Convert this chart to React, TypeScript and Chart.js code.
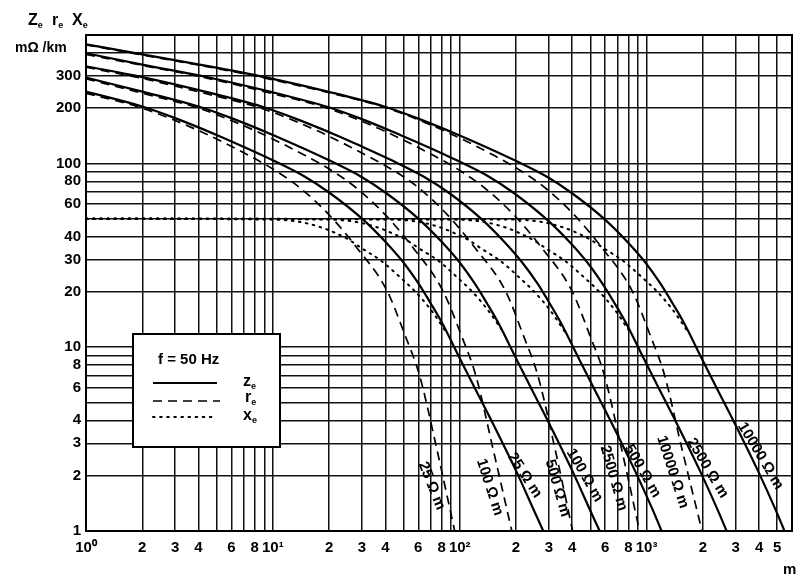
import { useEffect, useRef } from "react";
import { Chart, registerables } from "chart.js";

Chart.register(...registerables);

type P = [number, number];

// z_e (solid)
const zSolid25: P[] = [[1,246],[2,204],[3,176.5],[5,143],[7,123],[10,104],[15,84.2],[20,69.5],[30,50.1],[40,37.5],[50,28.9],[60,22.3],[70,17.3],[80,13.7],[100,8.71],[120,6.03],[150,3.87],[200,2.13],[250,1.29],[280,1.0]];
const zSolid100: P[] = [[1,293],[2,246],[4,204],[6,176.5],[10,143],[14,123],[20,104],[30,84.2],[40,69.5],[60,50.1],[80,37.5],[100,28.9],[120,22.3],[140,17.3],[160,13.7],[200,8.71],[240,6.03],[300,3.87],[400,2.13],[500,1.29],[561,1.0]];
const zSolid500: P[] = [[1,338],[2,295],[4.33,246],[8.7,204],[13,176.5],[21.7,143],[30.3,123],[43.3,104],[65,84.2],[87,69.5],[130,50.1],[173,37.5],[216,28.9],[260,22.3],[303,17.3],[346,13.7],[433,8.71],[520,6.03],[650,3.87],[866,2.13],[1083,1.29],[1203,1.0]];
const zSolid2500: P[] = [[1,398],[2,345],[4.8,290],[9.64,246],[19.3,204],[29,176.5],[48,143],[67.5,123],[96.4,104],[145,84.2],[193,69.5],[289,50.1],[386,37.5],[482,28.9],[578,22.3],[675,17.3],[771,13.7],[964,8.71],[1157,6.03],[1446,3.87],[1928,2.13],[2410,1.29],[2680,1.0]];
const zSolid10000: P[] = [[1,445],[2,392],[4.9,333],[9.85,289.5],[19.7,246],[39.4,204],[59,176.5],[98.5,143],[138,123],[197,104],[296,84.2],[394,69.5],[591,50.1],[788,37.5],[985,28.9],[1182,22.3],[1379,17.3],[1576,13.7],[1970,8.71],[2364,6.03],[2955,3.87],[3940,2.13],[4925,1.29],[5470,1.0]];

// r_e (dashed)
const rDash25: P[] = [[1,241],[2,200],[4,151],[7.5,110],[10.4,91],[13.9,74],[20,52.5],[28,35],[40.7,20.4],[51,11.6],[61,7.0],[75,2.86],[94,1.0]];
const rDash100: P[] = [[1,289],[2,241],[4,200],[8,151],[15,110],[20.8,91],[27.8,74],[40,52.5],[56,35],[81,20.4],[102,11.6],[122,7.0],[150,2.86],[190,1.0]];
const rDash500: P[] = [[1,334],[2,290],[4.3,241],[8.6,200],[17.2,151],[32,110],[44.7,91],[60,74],[86,52.5],[120,35],[175,20.4],[219,11.6],[262,7.0],[322,2.86],[402,1.0]];
const rDash2500: P[] = [[1,392],[2,342],[4.9,285],[9.75,241],[19.5,200],[39,151],[73,110],[101,91],[135,74],[195,52.5],[273,35],[397,20.4],[497,11.6],[595,7.0],[731,2.86],[917,1.0]];
const rDash10000: P[] = [[1,442],[2,389],[5,329],[10,285],[20.5,241],[41,200],[82,151],[154,110],[213,91],[285,74],[410,52.5],[574,35],[834,20.4],[1046,11.6],[1250,7.0],[1538,2.86],[1980,1.0]];

// x_e (dotted)
const xDot25: P[] = [[1,50],[10,49.5],[14,48],[18,45],[22,41.5],[26,38],[30,34.5],[38,29.5],[48,24],[58,20],[70,16],[85,12]];
const xDot100: P[] = [[1,50],[20,49.5],[28,48],[36,45],[44,41.5],[52.5,38],[60.6,34.5],[77,29.5],[97,24],[117,20],[141,16],[172,12]];
const xDot500: P[] = [[1,50],[43,49.5],[61,48],[78,45],[95,41.5],[113,38],[130,34.5],[165,29.5],[208,24],[251,20],[303,16],[368,12]];
const xDot2500: P[] = [[1,50],[96,49.5],[135,48],[174,45],[212,41.5],[251,38],[289,34.5],[366,29.5],[463,24],[559,20],[675,16],[819,12]];
const xDot10000: P[] = [[1,50],[197,49.5],[276,48],[355,45],[433,41.5],[512,38],[591,34.5],[749,29.5],[946,24],[1143,20],[1379,16],[1675,12]];

const xTickValues = [1,2,3,4,5,6,7,8,9,10,20,30,40,50,60,70,80,90,100,200,300,400,500,600,700,800,900,1000,2000,3000,4000,5000];
const xTickLabels = ["10⁰","2","3","4","","6","","8","","10¹","2","3","4","","6","","8","","10²","2","3","4","","6","","8","","10³","2","3","4","5"];
const yTickValues = [1,2,3,4,5,6,7,8,9,10,20,30,40,50,60,70,80,90,100,200,300,400];
const yTickLabels = ["1","2","3","4","","6","","8","","10","20","30","40","","60","","80","","100","200","300",""];

// curve annotations: text, anchor x (m), anchor value (mΩ/km), angle (deg)
const curveLabelTexts = ["25 Ω m","100 Ω m","25 Ω m","500 Ω m","100 Ω m","2500 Ω m","500 Ω m","10000 Ω m","2500 Ω m","10000 Ω m"];
const curveLabelX = [70.8,144.7,222.7,334,466,666,952,1377,2119,4070];
const curveLabelY = [1.76,1.73,2.01,1.71,2.01,1.94,2.12,2.09,2.2,2.56];
const curveLabelAngle = [68,72,57,74,60,74,60,72,59,59];

const FONT = "'Liberation Sans', Arial, Helvetica, sans-serif";

export default function App() {
  const ref = useRef<HTMLCanvasElement>(null);

  useEffect(() => {
    const canvas = ref.current!;
    const mk = (pts: P[], kind: "solid" | "dash" | "dot") => ({
      data: pts.map(([x, y]) => ({ x, y })),
      borderColor: "#000",
      backgroundColor: "#000",
      borderWidth: kind === "solid" ? 2.2 : kind === "dash" ? 1.7 : 2,
      borderDash: kind === "solid" ? [] : kind === "dash" ? [9, 6] : [1.6, 5.5],
      borderCapStyle: kind === "dot" ? "round" : "butt",
      pointRadius: 0,
      fill: false,
      cubicInterpolationMode: "monotone",
    });

    const framePlugin = {
      id: "frame",
      beforeDatasetsDraw(chart: any) {
        const { ctx, chartArea: a } = chart;
        ctx.save();
        ctx.strokeStyle = "#000";
        ctx.lineWidth = 2;
        ctx.strokeRect(a.left, a.top, a.right - a.left, a.bottom - a.top);
        ctx.restore();
      },
    };

    const textPlugin = {
      id: "texts",
      afterDatasetsDraw(chart: any) {
        const { ctx } = chart;
        const xs = chart.scales.x;
        const ys = chart.scales.y;
        ctx.save();
        ctx.fillStyle = "#000";
        // curve labels
        ctx.font = `bold 15px ${FONT}`;
        ctx.textAlign = "center";
        ctx.textBaseline = "middle";
        curveLabelTexts.forEach((t, i) => {
          const px = xs.getPixelForValue(curveLabelX[i]);
          const py = ys.getPixelForValue(curveLabelY[i]);
          ctx.save();
          ctx.translate(px, py);
          ctx.rotate((curveLabelAngle[i] * Math.PI) / 180);
          ctx.fillText(t, 0, 0);
          ctx.restore();
        });

        // axis title
        ctx.textAlign = "left";
        ctx.textBaseline = "alphabetic";
        const sub = (main: string, x: number, y: number) => {
          ctx.font = `bold 16px ${FONT}`;
          ctx.fillText(main, x, y);
          const w = ctx.measureText(main).width;
          ctx.font = `bold 9px ${FONT}`;
          ctx.fillText("e", x + w, y + 3);
        };
        sub("Z", 28, 25);
        sub("r", 52, 25);
        sub("X", 72, 25);
        ctx.font = `bold 14px ${FONT}`;
        ctx.fillText("mΩ /km", 15, 52);
        ctx.font = `bold 15px ${FONT}`;
        ctx.fillText("m", 783, 574);

        // legend box
        ctx.fillStyle = "#fff";
        ctx.fillRect(133, 334, 147, 113);
        ctx.strokeStyle = "#000";
        ctx.lineWidth = 2;
        ctx.strokeRect(133, 334, 147, 113);
        ctx.fillStyle = "#000";
        ctx.font = `bold 15px ${FONT}`;
        ctx.fillText("f = 50 Hz", 158, 364);
        const sample = (y: number, dash: number[], w: number, x2: number, cap: CanvasLineCap) => {
          ctx.save();
          ctx.beginPath();
          ctx.setLineDash(dash);
          ctx.lineWidth = w;
          ctx.lineCap = cap;
          ctx.moveTo(153, y);
          ctx.lineTo(x2, y);
          ctx.stroke();
          ctx.restore();
        };
        sample(383, [], 2.2, 217, "butt");
        sample(401, [9, 6], 1.7, 220, "butt");
        sample(417, [1.6, 5.5], 2, 212, "round");
        sub("z", 243, 386);
        sub("r", 245, 402);
        sub("x", 243, 420);
        ctx.restore();
      },
    };

    const tickFont = { family: FONT, size: 15, weight: "bold" as const };

    const chart = new Chart(canvas, {
      type: "line",
      data: {
        datasets: [
          mk(xDot25, "dot"), mk(xDot100, "dot"), mk(xDot500, "dot"), mk(xDot2500, "dot"), mk(xDot10000, "dot"),
          mk(rDash25, "dash"), mk(rDash100, "dash"), mk(rDash500, "dash"), mk(rDash2500, "dash"), mk(rDash10000, "dash"),
          mk(zSolid25, "solid"), mk(zSolid100, "solid"), mk(zSolid500, "solid"), mk(zSolid2500, "solid"), mk(zSolid10000, "solid"),
        ] as any,
      },
      options: {
        animation: false,
        responsive: false,
        devicePixelRatio: 1,
        layout: { padding: { top: 35, right: 19, left: 0, bottom: 0 } },
        plugins: { legend: { display: false }, tooltip: { enabled: false }, title: { display: false } },
        scales: {
          x: {
            type: "logarithmic",
            min: 1,
            max: 6000,
            afterBuildTicks: (s: any) => { s.ticks = xTickValues.map((v) => ({ value: v })); },
            afterFit: (s: any) => { s.height = 50; },
            ticks: {
              autoSkip: false,
              maxRotation: 0,
              minRotation: 0,
              color: "#000",
              font: tickFont,
              padding: 8,
              callback: (_v: any, i: number) => xTickLabels[i] ?? "",
            },
            grid: { color: "#111", lineWidth: 1.5, drawTicks: false },
            border: { display: true, color: "#000", width: 2 },
          },
          y: {
            type: "logarithmic",
            min: 1,
            max: 500,
            afterBuildTicks: (s: any) => { s.ticks = yTickValues.map((v) => ({ value: v })); },
            afterFit: (s: any) => { s.width = 86; },
            ticks: {
              autoSkip: false,
              color: "#000",
              font: tickFont,
              padding: 5,
              callback: (_v: any, i: number) => yTickLabels[i] ?? "",
            },
            grid: { color: "#111", lineWidth: 1.5, drawTicks: false },
            border: { display: true, color: "#000", width: 2 },
          },
        },
      } as any,
      plugins: [framePlugin, textPlugin],
    });
    return () => chart.destroy();
  }, []);

  return (
    <canvas
      ref={ref}
      width={811}
      height={581}
      style={{ position: "absolute", left: 0, top: 0, width: 811, height: 581, background: "#fff" }}
    />
  );
}
